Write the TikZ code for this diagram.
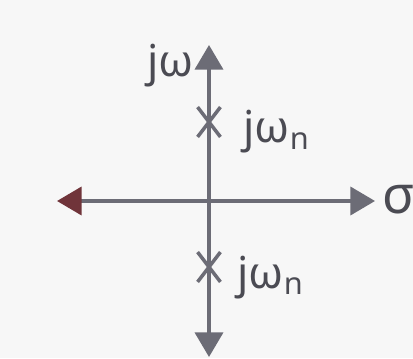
\documentclass[tikz,border=0pt]{standalone}
\usepackage{fontspec}
\setmainfont{Noto Sans}
\usetikzlibrary{arrows.meta,shapes.misc}
\definecolor{axisgray}{RGB}{108,108,118}
\definecolor{tipred}{RGB}{112,52,58}
\tikzset{axis/.style={line width=1.9pt,draw=axisgray,-{Triangle[length=14pt,width=16pt]}},
  pole/.style={cross out,draw=axisgray,line width=2pt,minimum width=11pt,minimum height=15pt,inner sep=0pt},
  lbl/.style={text=axisgray!70!black,font=\fontsize{25}{29}\selectfont,inner sep=0pt}}

\begin{document}
\begin{tikzpicture}
  \useasboundingbox[fill=gray!6] (-4.18,-3.14) rectangle (4.08,4.02);
  % axis ends
  \coordinate (O) at (0,0);
  \coordinate (T) at (0,3.12);
  \coordinate (B) at (0,-3.12);
  \coordinate (L) at (-3.04,0);
  \coordinate (R) at (3.32,0);
  \draw[axis] (O) -- (T);
  \draw[axis] (O) -- (B);
  \draw[axis] (O) -- (R);
  \draw[axis,-{Triangle[length=14pt,width=16pt,color=tipred]}] (O) -- (L);
  % labels
  \node[lbl,anchor=base east] (jw) at (-0.3,2.48) {jω};
  \node[lbl,anchor=west,font=\fontsize{30}{34}\selectfont] (sigma) at (3.46,0.02) {σ};
  % poles
  \node[pole] (p1) at (0,1.58) {};
  \node[pole] (p2) at (0,-1.32) {};
  \node[lbl,anchor=base west] (l1) at (0.68,1.16) {jω\textsubscript{n}};
  \node[lbl,anchor=base west] (l2) at (0.56,-1.74) {jω\textsubscript{n}};
\end{tikzpicture}
\end{document}
